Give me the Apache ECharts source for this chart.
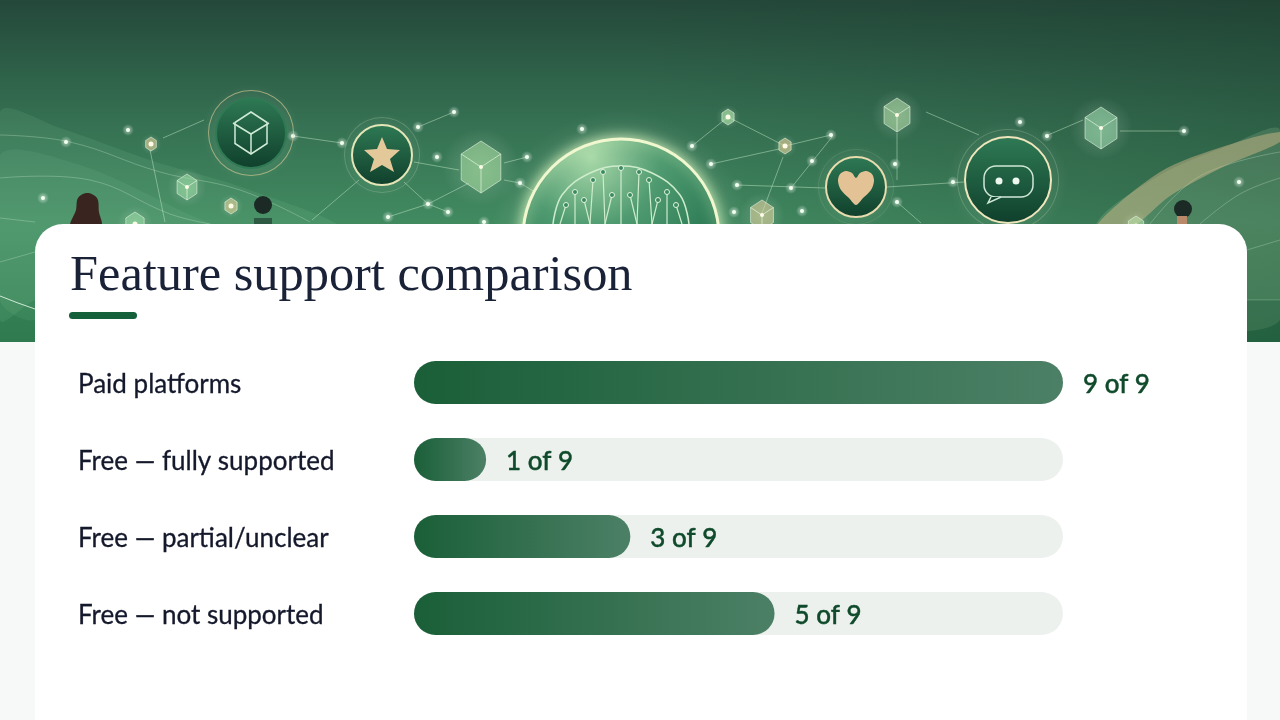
<!DOCTYPE html>
<html lang="en">
<head>
<meta charset="UTF-8">
<title>Feature support comparison</title>
<script src="https://cdn.jsdelivr.net/npm/echarts@6/dist/echarts.min.js"></script>
<style>
  html, body { margin: 0; padding: 0; background: #f7f8f8; }
  #main { width: 1280px; height: 720px; }
</style>
</head>
<body>
<div id="main"></div>
<script>
// chart data
var categories = ['Paid platforms', 'Free — fully supported', 'Free — partial/unclear', 'Free — not supported'];
var supported = [9, 1, 3, 5];
var totalFeatures = 9;
var chartTitle = 'Feature support comparison';

// banner decoration, not data
var dots = [[66,142],[128,130],[43,198],[293,136],[342,143],[454,112],[418,127],[437,157],[582,129],[527,157],[520,183],[428,204],[448,212],[388,217],[484,222],
  [692,146],[711,164],[737,185],[791,188],[802,211],[734,212],[831,135],[812,161],[895,164],[897,202],[953,182],[1020,122],[1047,136],[1184,131],[1239,182]];
var links = [[[293,136],[342,143]],[[418,127],[454,112]],[[359,180],[312,220]],[[404,182],[428,204]],[[388,217],[428,204]],[[428,204],[448,212]],[[428,204],[469,183]],
  [[414,162],[459,170]],[[504,163],[527,157]],[[504,180],[520,183]],[[520,183],[535,192]],[[163,138],[204,120]],[[150,150],[165,222]],
  [[692,146],[728,117]],[[728,117],[785,146]],[[711,164],[779,149]],[[785,146],[831,135]],[[783,157],[762,213]],[[737,185],[825,188]],[[791,188],[832,137]],
  [[887,187],[964,182]],[[897,202],[921,223]],[[897,133],[897,180]],[[926,112],[979,135]],[[1048,135],[1083,120]],[[1120,131],[1184,131]]];
var hexes = [[481,167,26,'#a9dca0'],[187,187,13,'#9ddca6'],[135,224,12,'#9ddca6'],[897,115,17,'#b5dca8'],[1101,128,21,'#9fdcb0'],[728,117,8,'#b9f0b0'],
  [151,144,7,'#e9cf95'],[231,206,8,'#e9cf95'],[785,146,8,'#e9cf95'],[762,215,15,'#e3cf9c'],[1136,226,10,'#b9e0a8']];
var brainBranches = [[560,224,566,205],[575,224,575,192],[590,224,584,200],[590,224,593,180],[605,224,603,172],[605,224,612,195],[621,224,621,168],
  [637,224,630,195],[637,224,639,172],[652,224,649,180],[652,224,658,200],[667,224,667,192],[682,224,676,205]];
var leftWaveLines = [[[0,135],[70,142],[160,172],[240,190],[310,222]],[[0,178],[90,180],[170,214],[210,224]],[[0,218],[35,222]],[[0,262],[35,252]]];
var rightWaveLines = [[[1150,224],[1200,176],[1280,152]],[[1200,224],[1240,194],[1280,178]],[[1247,250],[1280,240]],[[1247,300],[1280,300]]];

function hexPoints(cx, cy, r) {
  var p = [];
  for (var i = 0; i < 6; i++) {
    var a = Math.PI / 3 * i - Math.PI / 2;
    p.push([cx + r * 0.88 * Math.cos(a), cy + r * Math.sin(a)]);
  }
  return p;
}
function glow(cx, cy, r, color) {
  return { type: 'circle', shape: { cx: cx, cy: cy, r: r }, style: { fill: {
    type: 'radial', x: 0.5, y: 0.5, r: 0.5,
    colorStops: [{ offset: 0, color: color }, { offset: 1, color: 'rgba(255,255,255,0)' }] } } };
}
function badge(cx, cy, r, ring, halo) {
  return [
    glow(cx, cy, r * 1.4, 'rgba(190,240,190,0.2)'),
    { type: 'ring', shape: { cx: cx, cy: cy, r: r + 8, r0: r + 7 }, style: { fill: halo } },
    { type: 'circle', shape: { cx: cx, cy: cy, r: r }, style: { stroke: ring, lineWidth: 2, fill: {
      type: 'linear', x: 0, y: 0, x2: 0, y2: 1,
      colorStops: [{ offset: 0, color: '#2f7a55' }, { offset: 1, color: '#0f3f2b' }] } } }
  ];
}

function bannerGraphics() {
  var g = [];
  g.push({ type: 'rect', shape: { x: 0, y: 0, width: 1280, height: 342 }, style: { fill: {
    type: 'linear', x: 0, y: 0, x2: 0, y2: 1,
    colorStops: [{ offset: 0, color: '#24483a' }, { offset: 0.35, color: '#357052' }, { offset: 0.65, color: '#418a60' }, { offset: 1, color: '#2f7a4f' }] } } });
  g.push({ type: 'rect', shape: { x: 640, y: 0, width: 640, height: 342 }, style: { fill: {
    type: 'linear', x: 0, y: 0, x2: 1, y2: 0,
    colorStops: [{ offset: 0, color: 'rgba(30,60,45,0)' }, { offset: 1, color: 'rgba(25,55,40,0.3)' }] } } });
  // waves on the left
  g.push({ type: 'polygon', shape: { smooth: 0.3, points: [[0,112],[60,128],[150,160],[250,190],[340,230],[150,260],[35,300],[0,320]] }, style: { fill: 'rgba(160,225,175,0.1)' } });
  g.push({ type: 'polygon', shape: { smooth: 0.3, points: [[0,155],[80,165],[190,215],[240,240],[35,320],[0,300]] }, style: { fill: 'rgba(170,230,185,0.08)' } });
  leftWaveLines.concat(rightWaveLines).forEach(function (pts) {
    g.push({ type: 'polyline', shape: { smooth: 0.4, points: pts }, style: { stroke: 'rgba(205,240,210,0.3)', lineWidth: 1, fill: 'none' } });
  });
  g.push({ type: 'polyline', shape: { points: [[0,296],[18,303],[35,309]] }, style: { stroke: 'rgba(240,255,240,0.8)', lineWidth: 1, fill: 'none' } });
  // waves on the right
  g.push({ type: 'polygon', shape: { smooth: 0.25, points: [[1095,228],[1160,175],[1230,145],[1280,130],[1280,320],[1150,320]] }, style: { fill: 'rgba(190,225,180,0.16)' } });
  g.push({ type: 'polygon', shape: { smooth: 0.3, points: [[1095,228],[1160,172],[1225,146],[1280,132],[1280,142],[1225,166],[1170,196],[1130,228]] }, style: { fill: 'rgba(220,190,140,0.45)' } });
  g.push({ type: 'rect', shape: { x: 1247, y: 300, width: 33, height: 42 }, style: { fill: 'rgba(20,80,50,0.25)' } });

  links.forEach(function (l) {
    g.push({ type: 'line', shape: { x1: l[0][0], y1: l[0][1], x2: l[1][0], y2: l[1][1] }, style: { stroke: 'rgba(205,240,205,0.45)', lineWidth: 1 } });
  });
  dots.forEach(function (d) {
    g.push(glow(d[0], d[1], 6, 'rgba(235,255,235,0.6)'));
    g.push({ type: 'circle', shape: { cx: d[0], cy: d[1], r: 2 }, style: { fill: '#f2fff0' } });
  });
  hexes.forEach(function (h) {
    var pts = hexPoints(h[0], h[1], h[2]);
    g.push(glow(h[0], h[1], h[2] * 1.5, 'rgba(220,255,210,0.22)'));
    g.push({ type: 'polygon', shape: { points: pts }, style: { fill: h[3], opacity: 0.55, stroke: '#eefce8', lineWidth: 1 } });
    if (h[2] > 12) {
      g.push({ type: 'polyline', shape: { points: [pts[5], [h[0], h[1]], pts[1]] }, style: { stroke: 'rgba(240,255,235,0.6)', lineWidth: 1, fill: 'none' } });
      g.push({ type: 'line', shape: { x1: h[0], y1: h[1], x2: h[0], y2: h[1] + h[2] }, style: { stroke: 'rgba(240,255,235,0.6)', lineWidth: 1 } });
    }
    g.push({ type: 'circle', shape: { cx: h[0], cy: h[1], r: h[2] > 12 ? 2 : 2.5 }, style: { fill: '#fffbe8' } });
  });

  // cube badge
  g = g.concat(badge(251, 133, 35, '#2f7a55', 'rgba(225,205,150,0.6)'));
  g.push({ type: 'polygon', shape: { points: hexPoints(251, 133, 21) }, style: { fill: 'none', stroke: '#cfead6', lineWidth: 1.5 } });
  g.push({ type: 'polyline', shape: { points: [[233,123],[251,134],[269,123]] }, style: { fill: 'none', stroke: '#cfead6', lineWidth: 1.5 } });
  g.push({ type: 'line', shape: { x1: 251, y1: 134, x2: 251, y2: 154 }, style: { stroke: '#cfead6', lineWidth: 1.5 } });
  // star badge
  g = g.concat(badge(382, 155, 30, '#e5e6b8', 'rgba(225,235,200,0.22)'));
  g.push({ type: 'polygon', shape: { points: [[382,137],[387,149],[400,150],[390,159],[394,172],[382,165],[370,172],[374,159],[364,150],[377,149]] }, style: { fill: '#e3c99a' } });
  // brain
  g.push(glow(621, 240, 130, 'rgba(200,245,190,0.35)'));
  g.push({ type: 'circle', shape: { cx: 621, cy: 237, r: 98 }, style: { stroke: '#f1f7cf', lineWidth: 3, shadowBlur: 14, shadowColor: 'rgba(230,255,200,0.9)', fill: {
    type: 'radial', x: 0.35, y: 0.1, r: 0.7,
    colorStops: [{ offset: 0, color: '#a9d9a9' }, { offset: 0.5, color: '#4f9a70' }, { offset: 1, color: '#2b7a55' }] } } });
  g.push({ type: 'polyline', shape: { smooth: 0.4, points: [[553,224],[562,195],[590,173],[621,166],[652,173],[680,195],[689,224]] }, style: { fill: 'none', stroke: '#cdeccb', lineWidth: 1.5 } });
  brainBranches.forEach(function (b) {
    g.push({ type: 'line', shape: { x1: b[0], y1: b[1], x2: b[2], y2: b[3] }, style: { stroke: '#cdeccb', lineWidth: 1.2 } });
    g.push({ type: 'circle', shape: { cx: b[2], cy: b[3], r: 2.5 }, style: { fill: '#3c8a62', stroke: '#e2f5dc', lineWidth: 1 } });
  });
  // heart badge
  g = g.concat(badge(856, 187, 30, '#e9dcae', 'rgba(225,235,200,0.12)'));
  g.push({ type: 'polygon', shape: { smooth: 0.3, points: [[856,178],[860,173],[866,171],[872,174],[874,181],[871,190],[863,198],[856,205],[849,198],[841,190],[838,181],[840,174],[846,171],[852,173]] }, style: { fill: '#e3c396' } });
  // chat badge
  g = g.concat(badge(1008, 180, 43, '#efe6bd', 'rgba(225,235,200,0.22)'));
  g.push({ type: 'rect', shape: { x: 984, y: 166, width: 49, height: 31, r: 12 }, style: { fill: 'none', stroke: '#cfe8d6', lineWidth: 1.5 } });
  g.push({ type: 'polyline', shape: { points: [[991,197],[988,203],[1001,197]] }, style: { fill: '#11452f', stroke: '#cfe8d6', lineWidth: 1.5 } });
  g.push({ type: 'circle', shape: { cx: 999, cy: 181, r: 3.5 }, style: { fill: '#eef8ee' } });
  g.push({ type: 'circle', shape: { cx: 1016, cy: 181, r: 3.5 }, style: { fill: '#eef8ee' } });
  // people
  g.push({ type: 'polygon', shape: { smooth: 0.35, points: [[87,193],[97,198],[99,212],[101,226],[71,226],[76,210],[78,198]] }, style: { fill: '#3a2420' } });
  g.push({ type: 'circle', shape: { cx: 263, cy: 205, r: 9 }, style: { fill: '#1c2a26' } });
  g.push({ type: 'rect', shape: { x: 254, y: 218, width: 18, height: 7 }, style: { fill: '#2e5a43' } });
  g.push({ type: 'circle', shape: { cx: 1183, cy: 209, r: 9 }, style: { fill: '#1c2a26' } });
  g.push({ type: 'rect', shape: { x: 1177, y: 216, width: 10, height: 9 }, style: { fill: '#b98a6a' } });
  // page below the banner and the white card
  g.push({ type: 'rect', shape: { x: 0, y: 342, width: 1280, height: 378 }, style: { fill: '#f7f8f8' } });
  g.push({ type: 'rect', shape: { x: 35, y: 224, width: 1212, height: 520, r: 28 }, style: { fill: '#ffffff' } });
  // title underline
  g.push({ type: 'rect', shape: { x: 69, y: 312, width: 68, height: 7, r: 3.5 }, style: { fill: '#14603a' } });
  g.forEach(function (el) { el.silent = true; });
  return g;
}

var myChart = echarts.init(document.getElementById('main'));
myChart.setOption({
  animation: false,
  backgroundColor: '#f7f8f8',
  graphic: { elements: bannerGraphics() },
  title: {
    text: chartTitle,
    left: 70,
    top: 252,
    padding: 0,
    textStyle: { fontFamily: 'Liberation Serif', fontWeight: 'normal', fontSize: 50.4, color: '#1a2238' }
  },
  grid: { left: 414, top: 344, width: 649, height: 308 },
  xAxis: { type: 'value', min: 0, max: totalFeatures, show: false },
  yAxis: {
    type: 'category',
    inverse: true,
    data: categories,
    axisLine: { show: false },
    axisTick: { show: false },
    axisLabel: {
      align: 'left',
      margin: 336,
      formatter: '{a|{value}}',
      rich: {
        a: {
          fontFamily: 'Lato', fontSize: 26, color: '#14182b',
          textBorderColor: '#14182b', textBorderWidth: 0.3, padding: [5, 0, 0, 0]
        }
      }
    }
  },
  series: [{
    type: 'bar',
    data: supported,
    barWidth: 43,
    showBackground: true,
    backgroundStyle: { color: '#edf1ee', borderRadius: 21.5 },
    itemStyle: {
      borderRadius: 21.5,
      color: new echarts.graphic.LinearGradient(0, 0, 1, 0, [
        { offset: 0, color: '#1a5f38' },
        { offset: 1, color: '#4c8066' }
      ])
    },
    label: {
      show: true,
      position: 'right',
      distance: 20,
      offset: [0, 2],
      formatter: function (p) { return p.value + ' of ' + totalFeatures; },
      fontFamily: 'Lato',
      fontWeight: 500,
      fontSize: 26,
      color: '#0f4a2b',
      textBorderColor: '#0f4a2b',
      textBorderWidth: 0.4
    }
  }]
});
</script>
</body>
</html>
